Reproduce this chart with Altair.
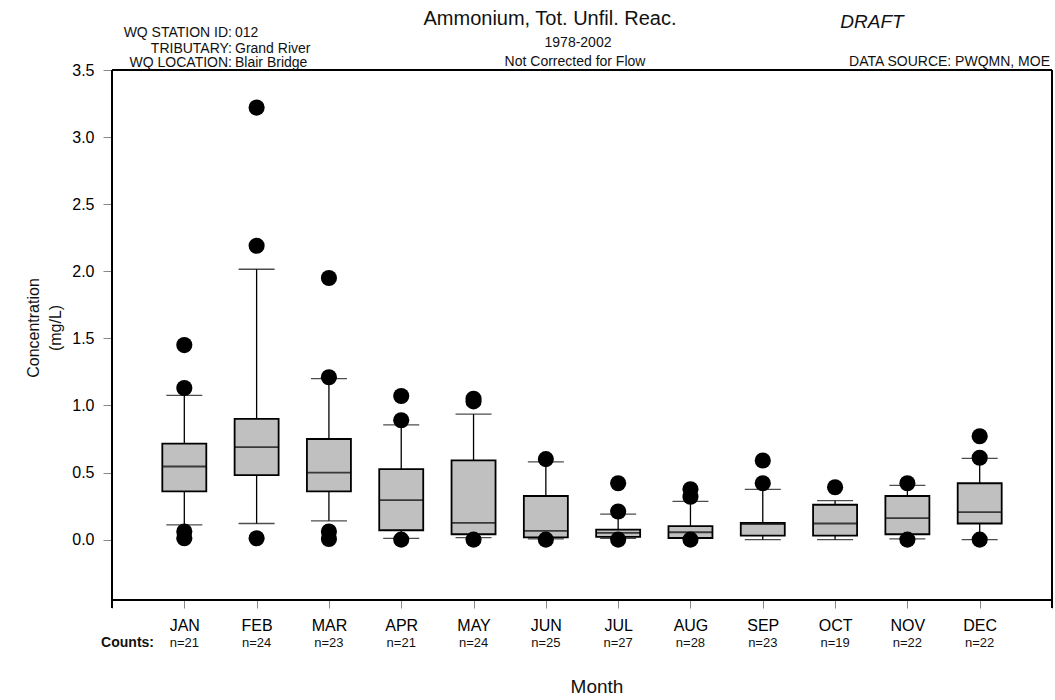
import altair as alt
import pandas as pd

# ---- data ----
months = ["JAN", "FEB", "MAR", "APR", "MAY", "JUN", "JUL", "AUG", "SEP", "OCT", "NOV", "DEC"]
counts = [21, 24, 23, 21, 24, 25, 27, 28, 23, 19, 22, 22]
whisk_lo = [0.11, 0.12, 0.14, 0.01, 0.015, 0.005, 0.01, 0.01, 0.0, 0.0, 0.005, 0.0]
q1 = [0.36, 0.48, 0.36, 0.07, 0.04, 0.017, 0.02, 0.012, 0.03, 0.03, 0.04, 0.12]
median = [0.545, 0.69, 0.50, 0.295, 0.125, 0.065, 0.05, 0.055, 0.115, 0.12, 0.16, 0.205]
q3 = [0.715, 0.90, 0.75, 0.525, 0.59, 0.325, 0.075, 0.10, 0.125, 0.26, 0.325, 0.42]
whisk_hi = [1.075, 2.015, 1.20, 0.855, 0.935, 0.58, 0.19, 0.285, 0.375, 0.29, 0.405, 0.605]
outliers = {
    "JAN": [1.45, 1.13, 0.06, 0.01],
    "FEB": [3.22, 2.19, 0.01],
    "MAR": [1.95, 1.21, 0.06, 0.005],
    "APR": [1.07, 0.89, 0.0],
    "MAY": [1.05, 1.03, 0.0],
    "JUN": [0.60, 0.0],
    "JUL": [0.42, 0.21, 0.0],
    "AUG": [0.375, 0.32, 0.0],
    "SEP": [0.59, 0.42],
    "OCT": [0.39],
    "NOV": [0.42, 0.0],
    "DEC": [0.77, 0.61, 0.0],
}
y_ticks = [0.0, 0.5, 1.0, 1.5, 2.0, 2.5, 3.0, 3.5]

FONT = "Liberation Sans"
W, H = 940, 530

stats = pd.DataFrame({
    "m": list(range(1, 13)),
    "month": months,
    "lo": whisk_lo, "q1": q1, "med": median, "q3": q3, "hi": whisk_hi,
    "n": ["n=%d" % c for c in counts],
})
out_rows = [{"m": months.index(k) + 1, "v": v} for k, vals in outliers.items() for v in vals]
out_df = pd.DataFrame(out_rows)

label_arr = "[" + ",".join("'%s'" % m for m in months) + "]"
xscale = alt.Scale(domain=[0, 13], nice=False, zero=False, padding=0)
yscale = alt.Scale(domain=[-0.45, 3.5], nice=False, zero=False, padding=0)
xaxis = alt.Axis(values=list(range(14)), title=None, grid=False, domain=True,
                 labelExpr="datum.value >= 1 && datum.value <= 12 ? %s[datum.value - 1] : ''" % label_arr,
                 labelFontSize=16, labelPadding=9, tickSize=8, labelAngle=0)
yaxis = alt.Axis(values=y_ticks, format=".1f", title=None, grid=False, domain=True,
                 labelFontSize=16, labelPadding=9, tickSize=9)

X = alt.X("m:Q", scale=xscale, axis=xaxis)

base = alt.Chart(stats)

whisker = base.mark_rule(color="black", strokeWidth=1.3).encode(
    x=X, y=alt.Y("lo:Q", scale=yscale, axis=yaxis), y2="hi:Q")
box = base.mark_bar(width=44, fill="#c0c0c0", stroke="black", strokeWidth=1.8).encode(
    x=X, y=alt.Y("q1:Q", scale=yscale, axis=yaxis), y2="q3:Q")
med = base.mark_tick(orient="horizontal", size=44, thickness=1.8, color="black").encode(
    x=X, y=alt.Y("med:Q", scale=yscale, axis=yaxis))
cap_lo = base.mark_tick(orient="horizontal", size=36, thickness=1.3, color="black").encode(
    x=X, y=alt.Y("lo:Q", scale=yscale, axis=yaxis))
cap_hi = base.mark_tick(orient="horizontal", size=36, thickness=1.3, color="black").encode(
    x=X, y=alt.Y("hi:Q", scale=yscale, axis=yaxis))
dots = alt.Chart(out_df).mark_circle(size=260, color="black", opacity=1).encode(
    x=X, y=alt.Y("v:Q", scale=yscale, axis=yaxis))
ncount = base.mark_text(fontSize=13, font=FONT, color="#111", baseline="alphabetic").encode(
    x=X, y=alt.value(H + 47), text="n:N")

one = pd.DataFrame({"k": [0]})
frame = [
    alt.Chart(one).mark_rule(color="black", strokeWidth=2).encode(
        x=alt.value(0), x2=alt.value(W), y=alt.value(0)),
    alt.Chart(one).mark_rule(color="black", strokeWidth=2).encode(
        x=alt.value(W), y=alt.value(0), y2=alt.value(H + 8)),
    alt.Chart(one).mark_rule(color="black", strokeWidth=2).encode(
        x=alt.value(0), y=alt.value(0), y2=alt.value(H + 8)),
    alt.Chart(one).mark_rule(color="black", strokeWidth=2).encode(
        x=alt.value(0), x2=alt.value(W), y=alt.value(H)),
]


def label(text, x, y, size=14, align="center", **kw):
    return alt.Chart(pd.DataFrame({"t": [text]})).mark_text(
        fontSize=size, font=FONT, color="#111", align=align, baseline="alphabetic", **kw
    ).encode(x=alt.value(x), y=alt.value(y), text="t:N")


texts = [
    label("Ammonium, Tot. Unfil. Reac.", 438, -45, size=20),
    label("1978-2002", 466, -23, size=14),
    label("Not Corrected for Flow", 463, -4, size=14),
    label("DRAFT", 760, -42, size=19, fontStyle="italic"),
    label("DATA SOURCE: PWQMN, MOE", 938, -4, size=14, align="right"),
    label("WQ STATION ID:", 120, -33, align="right"),
    label("TRIBUTARY:", 120, -17, align="right"),
    label("WQ LOCATION:", 120, -3, align="right"),
    label("012", 123, -33, align="left"),
    label("Grand River", 123, -17, align="left"),
    label("Blair Bridge", 123, -3, align="left"),
    label("Counts:", 42, H + 47, size=14, align="right", fontWeight="bold"),
    label("Month", 485, H + 93, size=19),
    label("Concentration", -73, 258, size=16, angle=270),
    label("(mg/L)", -51, 258, size=16, angle=270),
]

chart = alt.layer(whisker, box, med, cap_lo, cap_hi, dots, ncount, *frame, *texts).properties(
    width=W, height=H,
    autosize=alt.AutoSizeParams(type="none"),
    padding={"left": 112, "top": 70, "right": 3, "bottom": 100},
).configure_view(stroke="black", strokeWidth=2).configure_axis(
    labelFont=FONT, labelColor="#111", domainColor="black", domainWidth=2,
    tickColor="black", tickWidth=1.5,
).configure(background="white")

chart.save("out.html", embed_options={"renderer": "svg", "actions": False})
